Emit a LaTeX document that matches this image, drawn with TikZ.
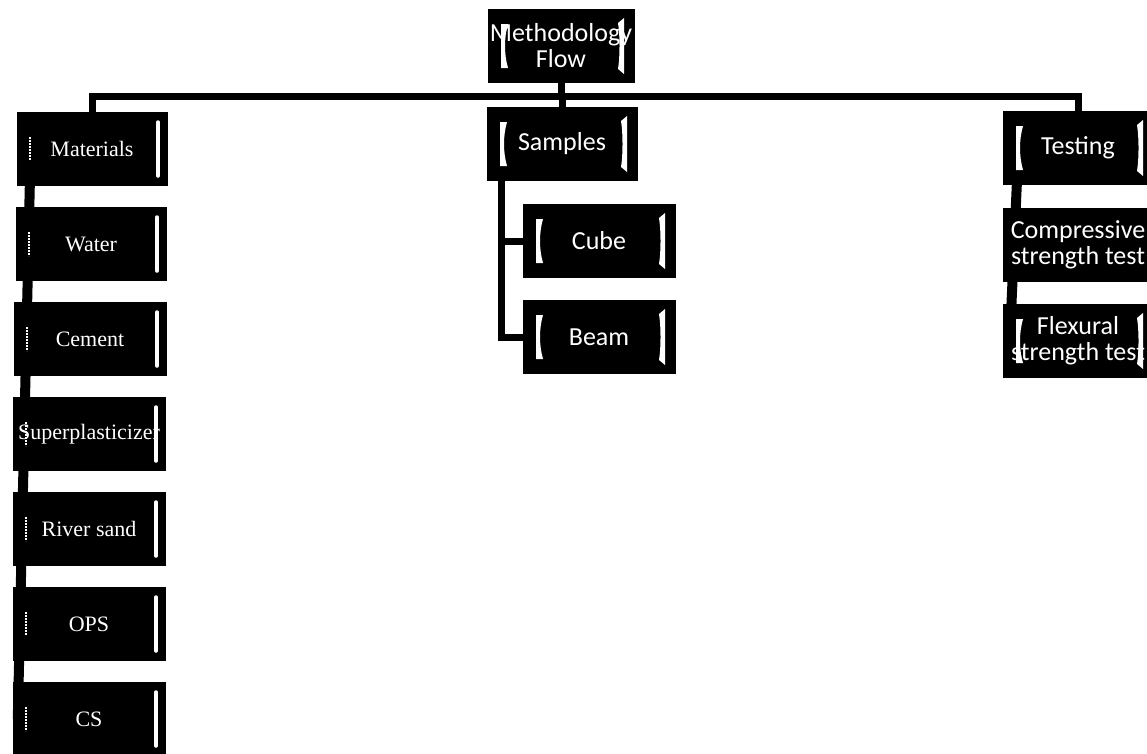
\documentclass[tikz,border=0pt]{standalone}
\usepackage{fontspec}
\setmainfont{Carlito}
\newfontfamily\timesf{Liberation Serif}
\usetikzlibrary{backgrounds}
\tikzset{
  box/.style={fill=black, draw=black, minimum width=150pt, minimum height=73pt,
    inner sep=0pt, text=white, align=center,
    font=\fontsize{26}{26}\selectfont},
  tbox/.style={box, font=\timesf\fontsize{22}{24}\selectfont},
  cmarks/.style={path picture={
    \fill[white] ([xshift=13pt,yshift=22pt]path picture bounding box.west)
      -- ++(7pt,0pt) .. controls +(-4pt,-14pt) and +(-4pt,14pt) .. ++(0pt,-44pt)
      -- ++(-7pt,0pt) -- cycle;
    \fill[white] ([xshift=-10pt,yshift=28pt]path picture bounding box.east)
      -- ++(-6pt,-5pt) .. controls +(2pt,-12pt) and +(2pt,12pt) .. ++(0pt,-46pt)
      -- ++(6pt,-5pt) -- cycle;
  }},
  tmarks/.style={path picture={
    \draw[white, line width=1.2pt, dash pattern=on 2pt off 1pt]
      ([xshift=13pt,yshift=12pt]path picture bounding box.west)
      -- ([xshift=13pt,yshift=-12pt]path picture bounding box.west);
    \draw[white, line width=3.5pt, line cap=round]
      ([xshift=-9pt,yshift=27pt]path picture bounding box.east)
      -- ([xshift=-9pt,yshift=-27pt]path picture bounding box.east);
  }},
  conn/.style={line width=7pt, draw=black},
  thick conn/.style={line width=10pt, draw=black},
}
\begin{document}
\begin{tikzpicture}[x=1pt, y=-1pt]
\useasboundingbox (0,0) rectangle (1147,753);
% top
\node[box, cmarks, minimum width=146pt] (top) at (561,46) {Methodology\\Flow};
% level 1
\node[tbox, tmarks] (mat) at (92,149) {Materials};
\node[box, cmarks] (sam) at (562,144) {Samples};
\node[box, cmarks] (tes) at (1078,148) {Testing};
% materials column
\node[tbox, tmarks, minimum width=150pt] (wat) at (91,244) {Water};
\node[tbox, tmarks, minimum width=152pt] (cem) at (90,339) {Cement};
\node[tbox, tmarks, minimum width=152pt] (sup) at (89,434) {Superplasticizer};
\node[tbox, tmarks, minimum width=152pt] (riv) at (89,529) {River sand};
\node[tbox, tmarks, minimum width=152pt] (ops) at (89,624) {OPS};
\node[tbox, tmarks, minimum width=152pt] (cs) at (89,719) {CS};
% samples column
\node[box, cmarks, minimum width=152pt] (cub) at (599,241) {Cube};
\node[box, cmarks, minimum width=152pt] (bea) at (599,337) {Beam};
% testing column
\node[box] (com) at (1078,245) {Compressive\\strength test};
\node[box, cmarks] (fle) at (1078,341) {Flexural\\strength test};
% connectors
\begin{pgfonlayer}{background}
\coordinate (bar) at (561,96);
\draw[conn] (top.south) -- (bar);
\draw[conn] (mat.north) |- (bar) -| (tes.north);
\draw[conn] (sam.north) -- (sam.north |- bar);
\draw[thick conn] ([xshift=13pt]mat.south west) -- ([xshift=5pt]cs.west);
\draw[conn] ([xshift=15pt]sam.south west) |- (cub.west);
\draw[conn] ([xshift=15pt]sam.south west) |- (bea.west);
\draw[thick conn] ([xshift=14pt]tes.south west) -- ([xshift=7pt]fle.west);
\end{pgfonlayer}
\end{tikzpicture}
\end{document}
